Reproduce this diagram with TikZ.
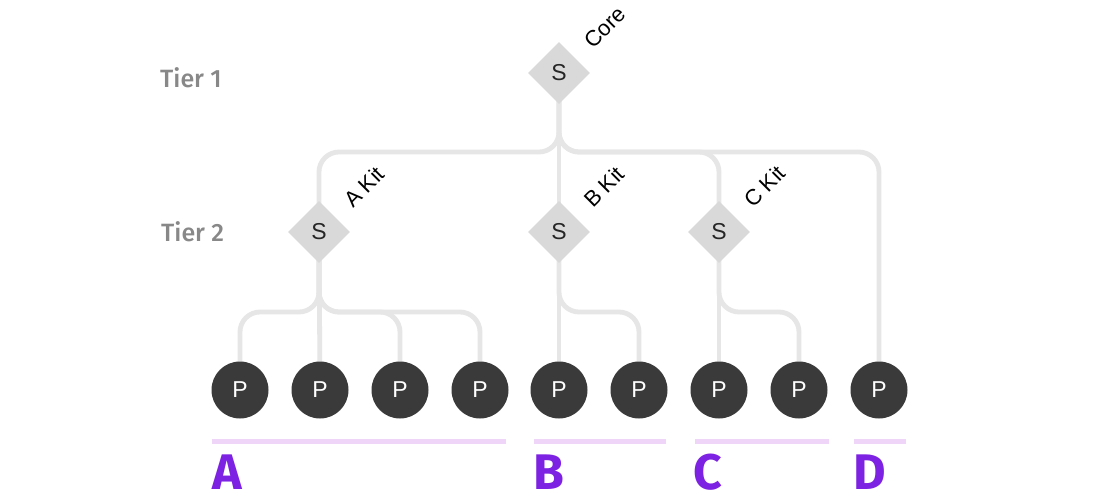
\documentclass[tikz,border=0pt]{standalone}
\usepackage{fontspec}
\setmainfont{Liberation Sans}
\newfontfamily\fira{Fira Sans}
\newfontfamily\firamed{Fira Sans Medium}
\usetikzlibrary{shapes.geometric,backgrounds,calc}
\definecolor{linegray}{HTML}{E6E6E6}
\definecolor{diagray}{HTML}{D9D9D9}
\definecolor{pdark}{HTML}{3A3A3A}
\definecolor{tiergray}{HTML}{888888}
\definecolor{barpurple}{HTML}{EFD6F8}
\definecolor{grpurple}{HTML}{7D22E2}
\begin{document}
\begin{tikzpicture}[x=1pt,y=-1pt,
  conn/.style={draw=linegray,line width=4.8pt,rounded corners=20pt},
  snode/.style={diamond,fill=diagray,minimum width=62pt,minimum height=62pt,inner sep=0pt,text=black!85,font=\fontsize{23}{23}\selectfont},
  pnode/.style={circle,fill=pdark,minimum size=57pt,inner sep=0pt,text=white,font=\fontsize{23}{23}\selectfont},
  kit/.style={rotate=45,anchor=base west,inner sep=0pt,font=\fontsize{22}{22}\selectfont},
  tier/.style={anchor=west,inner sep=0pt,text=tiergray,font=\firamed\fontsize{25}{25}\selectfont},
  grp/.style={anchor=base west,inner sep=0pt,text=grpurple,font=\fira\bfseries\fontsize{50}{50}\selectfont},
  bar/.style={draw=barpurple,line width=5pt}]
\useasboundingbox (0,0) rectangle (1120,500);

% tier labels
\node[tier] (t1) at (160,78) {Tier 1};
\node[tier] (t2) at (161,232) {Tier 2};

% diamonds
\node[snode] (core) at (559,73) {S};
\node[snode] (ka) at (319,232) {S};
\node[snode] (kb) at (559,232) {S};
\node[snode] (kc) at (719,232) {S};

% rotated labels
\node[kit] (lcore) at ($(core)+(34,-23)$) {Core};
\node[kit] (la) at ($(ka)+(34,-23)$) {A Kit};
\node[kit] (lb) at ($(kb)+(34,-23)$) {B Kit};
\node[kit] (lc) at ($(kc)+(34,-23)$) {C Kit};

% products
\node[pnode] (p1) at (240,390) {P};
\node[pnode] (p2) at (320,390) {P};
\node[pnode] (p3) at (400,390) {P};
\node[pnode] (p4) at (480,390) {P};
\node[pnode] (p5) at (559,390) {P};
\node[pnode] (p6) at (639,390) {P};
\node[pnode] (p7) at (719,390) {P};
\node[pnode] (p8) at (799,390) {P};
\node[pnode] (p9) at (879,390) {P};

\coordinate (h1) at (0,152);
\coordinate (h2) at (0,312);

\begin{scope}[on background layer]
\fill[white] (0,0) rectangle (1120,500);
\draw[conn] (core.center) |- (ka.center |- h1) -- (ka.center);
\draw[conn] (core.center) -- (kb.center);
\draw[conn] (core.center) |- (kc.center |- h1) -- (kc.center);
\draw[conn] (core.center) |- (p9.center |- h1) -- (p9.center);
\draw[conn] (ka.center) |- (p1.center |- h2) -- (p1.center);
\draw[conn] (ka.center) -- (p2.center);
\draw[conn] (ka.center) |- (p3.center |- h2) -- (p3.center);
\draw[conn] (ka.center) |- (p4.center |- h2) -- (p4.center);
\draw[conn] (kb.center) -- (p5.center);
\draw[conn] (kb.center) |- (p6.center |- h2) -- (p6.center);
\draw[conn] (kc.center) -- (p7.center);
\draw[conn] (kc.center) |- (p8.center |- h2) -- (p8.center);
\end{scope}

% group bars and letters
\draw[bar] (212,441) -- (506,441);
\draw[bar] (534,441) -- (666,441);
\draw[bar] (695,441) -- (829,441);
\draw[bar] (854,441) -- (906,441);
\node[grp] (ga) at (212,489) {A};
\node[grp] (gb) at (533,489) {B};
\node[grp] (gc) at (693,489) {C};
\node[grp] (gd) at (853,489) {D};
\end{tikzpicture}
\end{document}
